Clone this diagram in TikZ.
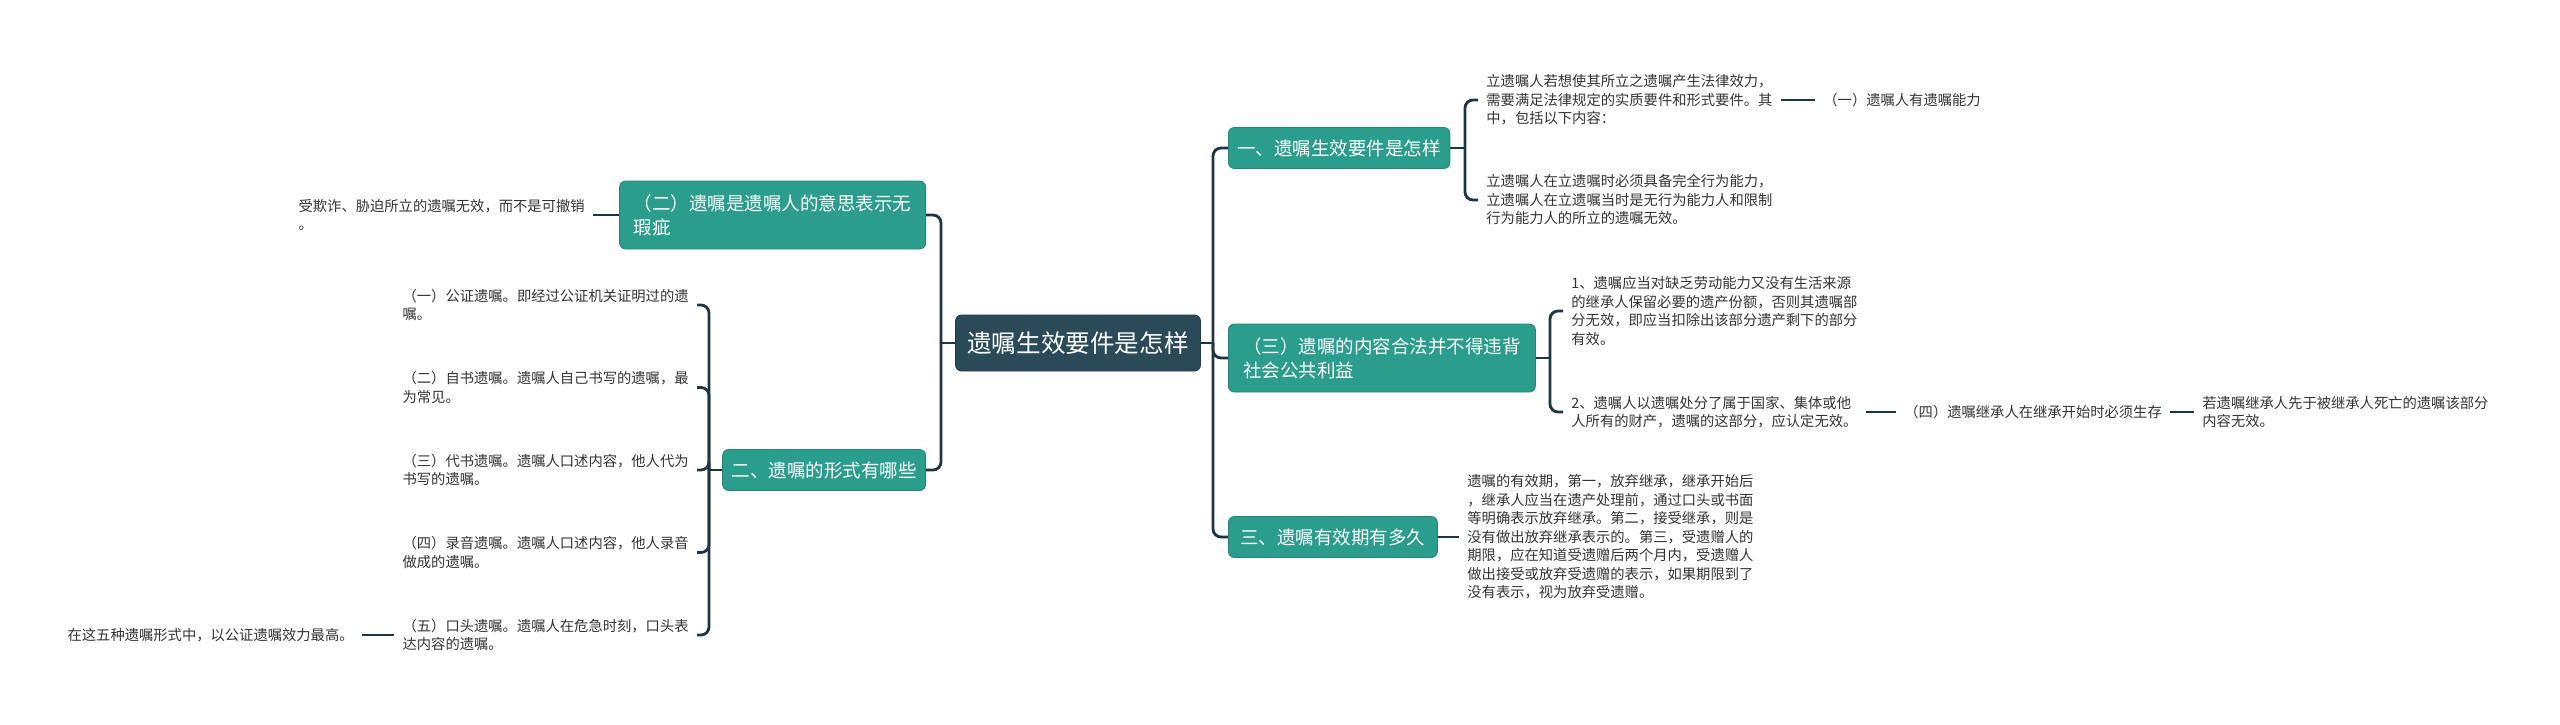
\documentclass[tikz,border=0pt]{standalone}
\usepackage{fontspec}
\setmainfont{Noto Sans CJK SC}
\usepackage{tikz}
\usetikzlibrary{positioning}
\definecolor{rootfill}{HTML}{2A4A58}
\definecolor{branchfill}{HTML}{2A9D8C}
\definecolor{linkcol}{HTML}{1E3642}
\definecolor{leafcol}{HTML}{333333}

\begin{document}
\begin{tikzpicture}[x=0.5pt, y=-0.5pt,
  root/.style={fill=rootfill, draw=rootfill!80!black, rounded corners=3pt, text=white,
               minimum width=122.5pt, minimum height=28pt,
               font={\fontsize{12.3}{15}\selectfont}},
  branch/.style={fill=branchfill, draw=branchfill!85!black, rounded corners=3pt,
                 text=white, align=left, inner xsep=4.5pt, minimum height=20.5pt,
                 font={\fontsize{9.25}{12}\selectfont}},
  leaf/.style={text=leafcol, align=left, inner xsep=4pt, inner ysep=1pt,
               font={\fontsize{7.15}{9.25}\selectfont}},
  conn/.style={draw=linkcol, line width=1.4pt, rounded corners=4pt}
]
  \useasboundingbox (0,0) rectangle (2560,724);

  % Central topic
  \node[root] (R) at (1078,343) {遗嘱生效要件是怎样};

  % Right side
  \node[branch, anchor=west] (B1) at (1228,148) {一、遗嘱生效要件是怎样};
  \node[branch, anchor=west, minimum width=153.5pt, minimum height=34pt] (B3) at (1228,358)
    {（三）遗嘱的内容合法并不得违背\\社会公共利益};
  \node[branch, anchor=west, minimum width=104.5pt] (B5) at (1228,537) {三、遗嘱有效期有多久};
  \coordinate (RJ) at (1213,343);
  \draw[conn] (R.east) -- (RJ);
  \draw[conn] (RJ) |- (B1.west);
  \draw[conn] (RJ) |- (B3.west);
  \draw[conn] (RJ) |- (B5.west);

  % Left side
  \node[branch, anchor=east, minimum width=153pt, minimum height=34pt] (L2) at (926,215)
    {（二）遗嘱是遗嘱人的意思表示无\\瑕疵};
  \node[branch, anchor=east] (L1) at (926,470) {二、遗嘱的形式有哪些};
  \coordinate (LJ) at (941,343);
  \draw[conn] (R.west) -- (LJ);
  \draw[conn] (LJ) |- (L2.east);
  \draw[conn] (LJ) |- (L1.east);

  % 一、 subtree
  \node[leaf, anchor=west] (B1a) at (1478,100)
    {立遗嘱人若想使其所立之遗嘱产生法律效力，\\需要满足法律规定的实质要件和形式要件。其\\中，包括以下内容：};
  \node[leaf, anchor=west] (B1b) at (1478,200)
    {立遗嘱人在立遗嘱时必须具备完全行为能力，\\立遗嘱人在立遗嘱当时是无行为能力人和限制\\行为能力人的所立的遗嘱无效。};
  \coordinate (B1J) at (1465,148);
  \draw[conn] (B1.east) -- (B1J);
  \draw[conn] (B1J) |- (B1a.west);
  \draw[conn] (B1J) |- (B1b.west);
  \node[leaf, anchor=west] (B1c) at (1815,100) {（一）遗嘱人有遗嘱能力};
  \draw[conn] (B1a.east) -- (B1c.west);

  % (三) subtree
  \node[leaf, anchor=west] (B3a) at (1563,311)
    {1、遗嘱应当对缺乏劳动能力又没有生活来源\\的继承人保留必要的遗产份额，否则其遗嘱部\\分无效，即应当扣除出该部分遗产剩下的部分\\有效。};
  \node[leaf, anchor=west] (B3b) at (1563,412)
    {2、遗嘱人以遗嘱处分了属于国家、集体或他\\人所有的财产，遗嘱的这部分，应认定无效。};
  \coordinate (B3J) at (1550,358);
  \draw[conn] (B3.east) -- (B3J);
  \draw[conn] (B3J) |- (B3a.west);
  \draw[conn] (B3J) |- (B3b.west);
  \node[leaf, anchor=west] (B3c) at (1896,412) {（四）遗嘱继承人在继承开始时必须生存};
  \draw[conn] (B3b.east) -- (B3c.west);
  \node[leaf, anchor=west] (B3d) at (2194,412)
    {若遗嘱继承人先于被继承人死亡的遗嘱该部分\\内容无效。};
  \draw[conn] (B3c.east) -- (B3d.west);

  % 三、 subtree
  \node[leaf, anchor=west] (B5a) at (1459,537)
    {遗嘱的有效期，第一，放弃继承，继承开始后\\，继承人应当在遗产处理前，通过口头或书面\\等明确表示放弃继承。第二，接受继承，则是\\没有做出放弃继承表示的。第三，受遗赠人的\\期限，应在知道受遗赠后两个月内，受遗赠人\\做出接受或放弃受遗赠的表示，如果期限到了\\没有表示，视为放弃受遗赠。};
  \draw[conn] (B5.east) -- (B5a.west);

  % (二) subtree
  \node[leaf, anchor=east] (L2a) at (593,215)
    {受欺诈、胁迫所立的遗嘱无效，而不是可撤销\\。};
  \draw[conn] (L2.west) -- (L2a.east);

  % 二、 subtree
  \node[leaf, anchor=east] (L1a) at (697,305)
    {（一）公证遗嘱。即经过公证机关证明过的遗\\嘱。};
  \node[leaf, anchor=east] (L1b) at (697,387.5)
    {（二）自书遗嘱。遗嘱人自己书写的遗嘱，最\\为常见。};
  \node[leaf, anchor=east] (L1c) at (697,470)
    {（三）代书遗嘱。遗嘱人口述内容，他人代为\\书写的遗嘱。};
  \node[leaf, anchor=east] (L1d) at (697,552.5)
    {（四）录音遗嘱。遗嘱人口述内容，他人录音\\做成的遗嘱。};
  \node[leaf, anchor=east] (L1e) at (697,635)
    {（五）口头遗嘱。遗嘱人在危急时刻，口头表\\达内容的遗嘱。};
  \coordinate (L1J) at (709,470);
  \draw[conn] (L1.west) -- (L1J);
  \draw[conn] (L1J) |- (L1a.east);
  \draw[conn] (L1J) |- (L1b.east);
  \draw[conn] (L1J) |- (L1c.east);
  \draw[conn] (L1J) |- (L1d.east);
  \draw[conn] (L1J) |- (L1e.east);
  \node[leaf, anchor=east] (L1f) at (362,635) {在这五种遗嘱形式中，以公证遗嘱效力最高。};
  \draw[conn] (L1e.west) -- (L1f.east);
\end{tikzpicture}
\end{document}
